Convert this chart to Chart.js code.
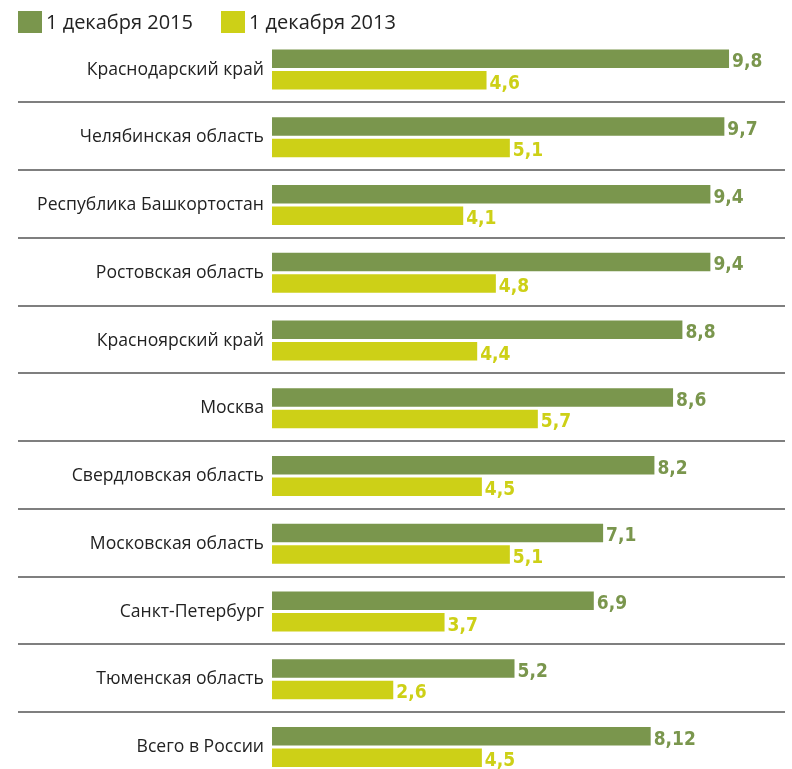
<!DOCTYPE html>
<html>
<head>
<meta charset="utf-8">
<script src="https://cdn.jsdelivr.net/npm/chart.js@4/dist/chart.umd.min.js"></script>
<style>
    body { margin: 0; background: #fff; }
    #wrap { position: relative; width: 792px; height: 769px; }
    #legend { position: absolute; left: 18px; top: 11px; display: flex; align-items: center; font: 20px "Open Sans", sans-serif; color: #222; }
    #legend .sw { width: 24px; height: 22px; margin-right: 4px; }
    #legend .item { display: flex; align-items: center; margin-right: 28px; line-height: 22px; }
</style>
</head>
<body>
<div id="wrap">
    <div id="legend"></div>
    <canvas id="chart" width="792" height="769"></canvas>
</div>
<script>
// --- DATA ---
const categories = [
    "Краснодарский край", "Челябинская область", "Республика Башкортостан",
    "Ростовская область", "Красноярский край", "Москва", "Свердловская область",
    "Московская область", "Санкт-Петербург", "Тюменская область", "Всего в России"
];
const values2015 = [9.8, 9.7, 9.4, 9.4, 8.8, 8.6, 8.2, 7.1, 6.9, 5.2, 8.12];
const values2013 = [4.6, 5.1, 4.1, 4.8, 4.4, 5.7, 4.5, 5.1, 3.7, 2.6, 4.5];
const seriesNames = ["1 декабря 2015", "1 декабря 2013"];
const seriesColors = ["#7a964d", "#cdd017"];

// --- HTML LEGEND ---
const legend = document.getElementById("legend");
seriesNames.forEach((name, i) => {
    legend.innerHTML += `<div class="item"><div class="sw" style="background:${seriesColors[i]}"></div>${name}</div>`;
});

// --- PLUGINS ---
// horizontal rules between the regions
const separators = {
    id: "separators",
    beforeDatasetsDraw(chart) {
        const y = chart.scales.y, ctx = chart.ctx;
        ctx.save();
        ctx.strokeStyle = "#555";
        ctx.lineWidth = 1.5;
        for (let i = 0; i < categories.length - 1; i++) {
            const yy = Math.round((y.getPixelForValue(i) + y.getPixelForValue(i + 1)) / 2) - 1;
            ctx.beginPath();
            ctx.moveTo(18, yy);
            ctx.lineTo(chart.chartArea.right, yy);
            ctx.stroke();
        }
        ctx.restore();
    }
};

// numbers at the end of the bars
const valueLabels = {
    id: "valueLabels",
    afterDatasetsDraw(chart) {
        const ctx = chart.ctx;
        ctx.save();
        ctx.font = 'bold 19px "DejaVu Sans Condensed", "Liberation Sans Narrow", sans-serif';
        ctx.textAlign = "left";
        ctx.textBaseline = "alphabetic";
        chart.data.datasets.forEach((ds, di) => {
            const meta = chart.getDatasetMeta(di);
            ctx.fillStyle = ds.backgroundColor;
            meta.data.forEach((bar, i) => {
                const txt = String(ds.data[i]).replace(".", ",");
                ctx.fillText(txt, bar.x + 3, bar.y + bar.height / 2 - 1);
            });
        });
        ctx.restore();
    }
};

// --- CHART ---
const ctx = document.getElementById("chart").getContext("2d");
new Chart(ctx, {
    type: "bar",
    data: {
        labels: categories,
        datasets: [
            { label: seriesNames[0], data: values2015, backgroundColor: seriesColors[0], clip: false },
            { label: seriesNames[1], data: values2013, backgroundColor: seriesColors[1], clip: false }
        ]
    },
    options: {
        indexAxis: "y",
        responsive: false,
        animation: false,
        categoryPercentage: 0.635,
        barPercentage: 0.87,
        layout: { padding: { top: 69.5, bottom: 22, left: 0, right: 7 } },
        plugins: { legend: { display: false }, tooltip: { enabled: false } },
        scales: {
            x: { display: false, min: 0, max: 11 },
            y: {
                offset: false,
                grid: { display: false },
                border: { display: false },
                ticks: { color: "#222", padding: 0, font: { family: "Open Sans", size: 17.6 } },
                afterFit: s => { s.width = 272; }
            }
        }
    },
    plugins: [separators, valueLabels]
});
</script>
</body>
</html>
